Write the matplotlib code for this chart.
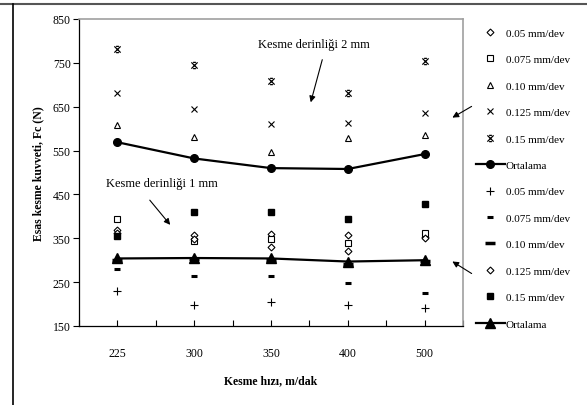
import matplotlib.pyplot as plt
from matplotlib.path import Path
from matplotlib.lines import Line2D

plt.rcParams['font.family'] = ['Liberation Serif', 'DejaVu Serif']

# Cutting speeds (categories)
speeds = ['225', '300', '350', '400', '500']

# Depth of cut 2 mm
d2_005 = [370, 357, 360, 357, 353]
d2_0075 = [395, 343, 348, 339, 362]
d2_010 = [608, 580, 547, 578, 586]
d2_0125 = [681, 645, 610, 614, 635]
d2_015 = [781, 746, 709, 681, 755]
d2_mean = [569, 532, 510, 508, 542]

# Depth of cut 1 mm
d1_005 = [229, 199, 205, 199, 190]
d1_0075 = [281, 263, 263, 248, 225]
d1_010 = [300, 302, 300, 292, 298]
d1_0125 = [363, 348, 329, 320, 350]
d1_015 = [356, 409, 409, 394, 428]
d1_mean = [304, 305, 304, 297, 300]

feed_labels = ['0.05 mm/dev', '0.075 mm/dev', '0.10 mm/dev', '0.125 mm/dev', '0.15 mm/dev']

# asterisk-like marker used by the spreadsheet
M, L = Path.MOVETO, Path.LINETO
star = Path([(-1, -1), (1, 1), (-1, 1), (1, -1), (-0.45, 1), (0.45, 1), (-0.45, -1), (0.45, -1)],
            [M, L, M, L, M, L, M, L])

fig = plt.figure(figsize=(5.87, 4.06), dpi=100)
ax = fig.add_axes([79 / 587, 79 / 406, 384 / 587, 307 / 406])

x = list(range(len(speeds)))
open_kw = dict(ls='none', color='black', mfc='white', mew=0.8)

h = []
h += ax.plot(x, d2_005, marker='D', ms=3.5, label=feed_labels[0], **open_kw)
h += ax.plot(x, d2_0075, marker='s', ms=4.5, label=feed_labels[1], **open_kw)
h += ax.plot(x, d2_010, marker='^', ms=5, label=feed_labels[2], **open_kw)
h += ax.plot(x, d2_0125, marker='x', ms=4.5, ls='none', color='black', mew=0.8, label=feed_labels[3])
h += ax.plot(x, d2_015, marker=star, ms=4.5, ls='none', color='black', mew=0.9, label=feed_labels[4])
h += ax.plot(x, d2_mean, marker='o', ms=5.5, color='black', lw=1.6, label='Ortalama')

h += ax.plot(x, d1_005, marker='+', ms=6, ls='none', color='black', mew=0.8, label=feed_labels[0])
h += ax.plot(x, d1_0075, marker='_', ms=4, ls='none', color='black', mew=2.2, label=feed_labels[1])
h += ax.plot(x, d1_010, marker='_', ms=7, ls='none', color='black', mew=2.5, label=feed_labels[2])
h += ax.plot(x, d1_0125, marker='D', ms=3.5, label=feed_labels[3], **open_kw)
h += ax.plot(x, d1_015, marker='s', ms=5, ls='none', color='black', label=feed_labels[4])
h += ax.plot(x, d1_mean, marker='^', ms=6.5, color='black', lw=1.6, label='Ortalama')

ax.set_xlim(-0.5, len(speeds) - 0.5)
ax.set_ylim(150, 850)
ax.set_yticks(range(150, 851, 100))
ax.set_xticks(x)
ax.set_xticklabels(speeds)
ax.set_xticks([i - 0.5 for i in range(len(speeds) + 1)], minor=True)
ax.tick_params(axis='y', direction='out', length=4, width=0.8, labelsize=8.5, pad=2)
ax.tick_params(axis='x', which='both', direction='in', length=4, width=0.8, labelsize=8.5, pad=15)

for side in ['left', 'bottom']:
    ax.spines[side].set_color('black')
    ax.spines[side].set_linewidth(0.9)
for side in ['top', 'right']:
    ax.spines[side].set_color('#a0a0a0')
    ax.spines[side].set_linewidth(1.2)

ax.set_xlabel('Kesme hızı, m/dak', fontsize=8.5, fontweight='bold', labelpad=11)
ax.set_ylabel('Esas kesme kuvveti, Fc (N)', fontsize=8.5, fontweight='bold', labelpad=6)

# annotations
arrow = dict(arrowstyle='-|>', color='black', lw=0.8, mutation_scale=9)
ff = 'figure fraction'


def fp(px, py):
    return (px / 587, 1 - py / 406)


ax.annotate('', xy=fp(310, 106), xytext=fp(323, 58), xycoords=ff, textcoords=ff, arrowprops=arrow)
fig.text(*fp(314, 45), 'Kesme derinliği 2 mm', ha='center', va='center', fontsize=9)
ax.annotate('', xy=fp(172, 228), xytext=fp(148, 199), xycoords=ff, textcoords=ff, arrowprops=arrow)
fig.text(*fp(162, 184), 'Kesme derinliği 1 mm', ha='center', va='center', fontsize=9)
ax.annotate('', xy=fp(450, 120), xytext=fp(474, 106), xycoords=ff, textcoords=ff, arrowprops=arrow)
ax.annotate('', xy=fp(450, 261), xytext=fp(474, 276), xycoords=ff, textcoords=ff, arrowprops=arrow)

# legend
fig.legend(handles=h, loc='upper left', bbox_to_anchor=(476 / 587, 1 - 29 / 406),
           frameon=False, fontsize=8, labelspacing=1.5, handlelength=2.6,
           handletextpad=0.1, borderaxespad=0, borderpad=0, numpoints=1)

# outer chart frame
fig.add_artist(Line2D([0, 1], [1 - 5 / 406] * 2, color='#555555', lw=1.5, transform=fig.transFigure))
fig.add_artist(Line2D([13 / 587] * 2, [0, 1 - 5 / 406], color='black', lw=1.2, transform=fig.transFigure))

plt.savefig('out.png', dpi=100)
